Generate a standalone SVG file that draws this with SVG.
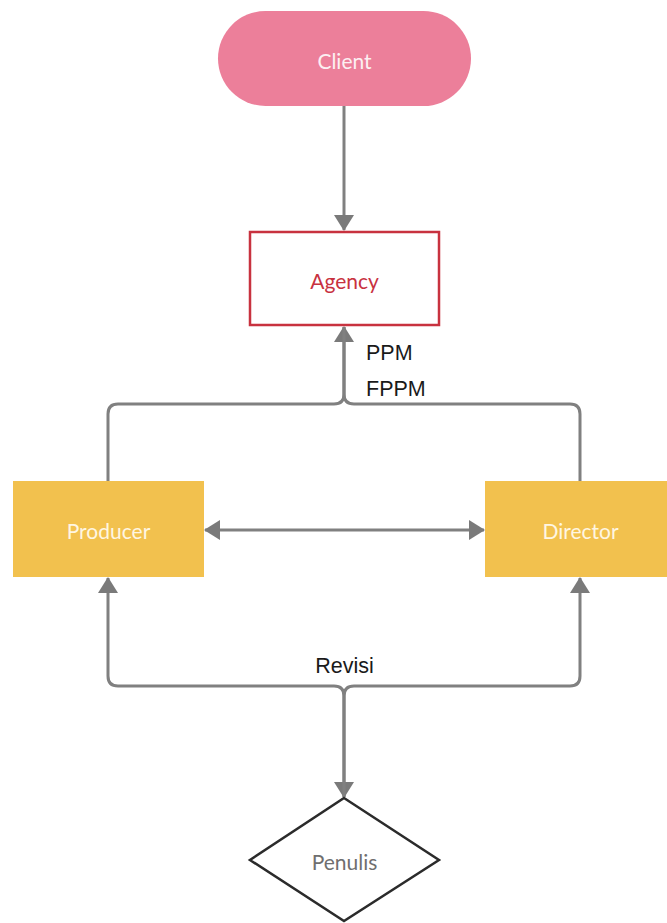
<svg xmlns="http://www.w3.org/2000/svg" width="667" height="923" viewBox="0 0 667 923">
  <style>
    .node-label { font-family: Lato, "Open Sans", "Liberation Sans", sans-serif; font-size: 21px; text-anchor: middle; dominant-baseline: central; }
    .edge { fill: none; stroke: #808080; stroke-width: 3; }
    .edge-label { font-family: "Liberation Sans", Arial, sans-serif; font-size: 21.5px; fill: #1a1a1a; }
    .process { fill: #F2C14E; }
  </style>
  <defs>
    <marker id="arrow" viewBox="0 0 16 20" refX="15" refY="10" markerWidth="16" markerHeight="20" markerUnits="userSpaceOnUse" orient="auto-start-reverse">
      <path d="M0 0 L16 10 L0 20 z" fill="#7a7a7a"/>
    </marker>
  </defs>
  <rect width="667" height="923" fill="#ffffff"/>

  <g id="connectors">
    <path class="edge" d="M344 106 V230" marker-end="url(#arrow)"/>
    <path class="edge" d="M108 481 V414 Q108 404 118 404 H334 Q344 404 344 394 V327" marker-end="url(#arrow)"/>
    <path class="edge" d="M580 481 V414 Q580 404 570 404 H354 Q344 404 344 394 V327"/>
    <path class="edge" d="M205 530 H484" marker-start="url(#arrow)" marker-end="url(#arrow)"/>
    <path class="edge" d="M108 578 V676 Q108 686 118 686 H334 Q344 686 344 696 V797" marker-start="url(#arrow)" marker-end="url(#arrow)"/>
    <path class="edge" d="M580 578 V676 Q580 686 570 686 H354 Q344 686 344 696 V797" marker-start="url(#arrow)"/>
    <text class="edge-label" x="366" y="360">PPM</text>
    <text class="edge-label" x="366" y="396">FPPM</text>
    <text class="edge-label" x="344.5" y="673" text-anchor="middle">Revisi</text>
  </g>

  <g id="client">
    <rect x="218" y="11" width="253" height="95" rx="47.5" fill="#EC7F9A"/>
    <text class="node-label" x="344.5" y="60" fill="#FCEFF2">Client</text>
  </g>

  <g id="agency">
    <rect x="250" y="232" width="189" height="93" fill="#ffffff" stroke="#C8323F" stroke-width="2.5"/>
    <text class="node-label" x="344.5" y="280" fill="#C8323F">Agency</text>
  </g>

  <g id="producer">
    <rect class="process" x="13" y="481" width="191" height="96"/>
    <text class="node-label" x="108.5" y="530" fill="#FFF6E2">Producer</text>
  </g>

  <g id="director">
    <rect class="process" x="485" y="481" width="191" height="96"/>
    <text class="node-label" x="580.5" y="530" fill="#FFF6E2">Director</text>
  </g>

  <g id="penulis">
    <polygon points="344,798 439,860 344,921 250,860" fill="#ffffff" stroke="#2b2b2b" stroke-width="2.5" stroke-linejoin="miter"/>
    <text class="node-label" x="344.5" y="861" fill="#6f6f6f">Penulis</text>
  </g>
</svg>
